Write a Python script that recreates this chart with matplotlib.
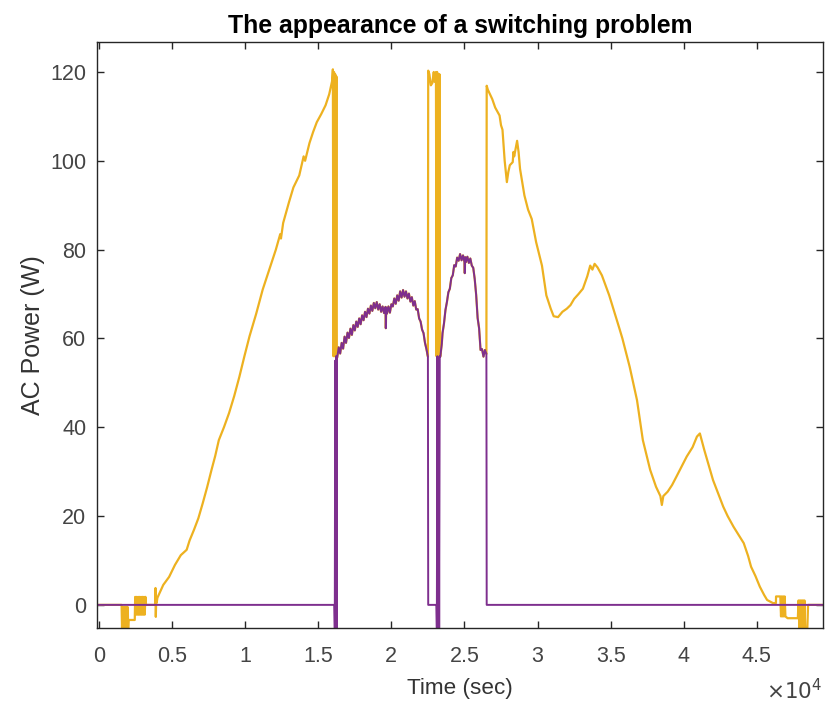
import matplotlib.pyplot as plt
import numpy as np

plt.rcParams['font.family'] = ['Liberation Sans', 'DejaVu Sans']

# colours of the two inverter channels
col_a = '#EDB120'
col_b = '#7E2F8E'

# --- channel A (yellow) pieces, time in seconds, power in W ---
startup_t = [0, 1550, 1580, 1610, 1640, 1670, 1700, 1730, 1760, 1790, 1820, 1850, 1880,
             1910, 1940, 1970, 2000, 2030, 2450, 2480, 2530, 2580, 2630, 2680, 2730, 2780,
             2830, 2880, 2930, 2980, 3030, 3080, 3130, 3180, 3220, 3850, 3870, 3890, 3920, 3950]
startup_p = [0, 0, -5.2, -0.5, -5.2, -0.5, -5.2, -0.5, -5.2, -0.5, -5.2, -0.5, -5.2,
             -0.5, -5.2, -0.5, -5.2, -3.4, -3.4, 1.8, -2.2, 1.8, -2.2, 1.8, -2.2, 1.8,
             -2.2, 1.8, -2.2, 1.8, -2.2, 1.8, -2.2, 1.8, 0, 0, 3.8, -2.7, 1.5, 0.5]

ramp_t = [4000, 4400, 4800, 5200, 5600, 6000, 6200, 6500, 6800, 7100, 7400, 7700, 7950,
          8200, 8550, 8900, 9250, 9600, 9950, 10300, 10750, 11200, 11650, 12100, 12400,
          12450, 12600, 13000, 13300, 13700, 14000, 14100, 14400, 14650, 14900, 15200,
          15500, 15750, 15950, 16000]
ramp_p = [1.6, 4.5, 6.3, 9.0, 11.2, 12.4, 14.5, 16.9, 19.5, 22.9, 26.5, 30.4, 33.5,
          37.1, 40.0, 43.2, 47.0, 51.3, 56.0, 60.5, 65.5, 71.0, 75.5, 80.0, 83.5,
          82.5, 86.0, 90.7, 94.0, 96.7, 101.0, 100.0, 104.0, 106.5, 108.7, 110.5,
          112.5, 115.0, 118.0, 120.6]

# first switch: A oscillating between full and shared power
switch1_t = [16040, 16080, 16120, 16160, 16200, 16240, 16270]
switch1_p = [56.0, 120.0, 56.0, 119.5, 56.0, 119.0, 55.5]

# shared-power humps (both channels)
hump1_t = [16300, 16400, 16500, 16600, 16700, 16800, 16900, 17000, 17100, 17200, 17300,
           17400, 17500, 17600, 17700, 17800, 17900, 18000, 18100, 18200, 18300, 18400,
           18500, 18600, 18700, 18800, 18900, 19000, 19100, 19200, 19300, 19400, 19500,
           19600, 19620, 19650, 19700, 19800, 19900, 20000, 20100, 20200, 20300, 20400,
           20500, 20600, 20700, 20800, 20900, 21000, 21100, 21200, 21300, 21400, 21500,
           21600, 21700, 21800, 21900, 22000, 22100, 22200, 22300, 22400, 22500]
hump1_p = [55.8, 58.0, 56.6, 59.0, 57.7, 60.4, 59.0, 61.3, 60.1, 62.2, 60.8,
           63.0, 61.8, 63.8, 62.6, 64.5, 63.2, 65.2, 64.1, 66.0, 64.8, 66.7,
           65.6, 67.4, 66.2, 68.0, 66.8, 68.2, 66.5, 67.7, 66.0, 67.2, 65.7,
           67.1, 62.3, 66.9, 65.6, 67.2, 65.8, 67.7, 67.2, 69.0, 67.8, 69.7,
           68.5, 70.6, 69.2, 70.9, 69.4, 70.6, 69.0, 70.1, 68.3, 69.3, 67.4,
           68.4, 66.5, 66.6, 64.5, 63.8, 62.0, 61.2, 59.0, 57.6, 55.9]

hump2_t = [23350, 23400, 23450, 23500, 23600, 23700, 23800, 23900, 24000, 24100, 24200,
           24300, 24400, 24500, 24600, 24700, 24800, 24900, 25000, 25020, 25050, 25100,
           25200, 25300, 25400, 25500, 25600, 25700, 25800, 25900, 26000, 26100, 26200,
           26300, 26400, 26500]
hump2_p = [55.9, 57.4, 58.8, 61.2, 63.4, 66.4, 68.2, 70.4, 71.2, 73.6, 74.2,
           76.5, 76.2, 78.2, 77.5, 79.0, 77.6, 78.7, 77.2, 74.7, 78.3, 77.2,
           78.4, 77.0, 78.0, 76.4, 75.9, 73.4, 69.8, 64.6, 62.3, 57.4, 57.6,
           55.9, 57.4, 56.5]

# A back at full power between the humps
gap_a_t = [22520, 22600, 22700, 22800, 22900, 22950, 23050, 23090, 23130, 23170,
           23210, 23250, 23290, 23330]
gap_a_p = [120.3, 119.5, 117.0, 117.5, 120.0, 117.8, 120.0, 56.0, 120.0, 56.0,
           119.5, 56.0, 119.5, 56.0]

decay_t = [26520, 26600, 26900, 27100, 27400, 27500, 27600, 27750, 27900, 28000, 28100,
           28300, 28350, 28400, 28600, 28700, 28800, 29100, 29350, 29600, 29900, 30300,
           30600, 30900, 31100, 31400, 31700, 32000, 32250, 32500, 32800, 33100, 33400,
           33600, 33750, 33900, 34100, 34400, 34700, 34900, 35200, 35600, 35800, 36300,
           36800, 37200, 37700, 38100, 38400, 38500, 38600, 38900, 39200, 39500, 40200,
           40600, 40900, 41100, 41400, 41700, 42000, 42300, 42700, 43000, 43400, 43700,
           44100, 44400, 44600, 44900, 45200, 45500, 45700, 46100, 46300, 46310, 46600,
           46650, 46700, 46750, 46800, 46850, 46900, 46950, 47100, 47800, 47850, 47900,
           47950, 48000, 48050, 48100, 48150, 48200, 48250, 48300, 48450, 48500, 49500]
decay_p = [116.9, 116.0, 113.9, 112.0, 110.2, 108.0, 107.0, 100.0, 95.2, 97.5, 99.0,
           99.7, 102.0, 101.0, 104.5, 102.0, 98.2, 92.2, 89.0, 86.9, 81.7, 76.4,
           69.7, 66.7, 65.0, 64.8, 66.0, 66.7, 67.5, 68.9, 70.0, 71.2, 74.0,
           76.4, 75.5, 76.8, 76.0, 74.2, 71.5, 69.7, 66.5, 62.2, 60.0, 53.6,
           46.1, 37.1, 30.4, 26.6, 24.5, 22.5, 24.5, 25.5, 27.0, 28.9, 33.4,
           35.5, 37.9, 38.6, 34.9, 31.5, 28.1, 25.5, 22.1, 20.0, 17.6, 16.0,
           13.9, 11.0, 8.6, 6.5, 4.1, 2.2, 1.1, 0.4, 0.4, 1.9, 1.9,
           -2.6, 1.9, -2.6, 1.9, -2.6, 1.9, -2.6, -3.0, -3.0, 1.0, -5.2,
           1.0, -5.2, 1.0, -5.2, 1.0, -5.2, 1.0, -5.2, -5.2, 0, 0]

# --- channel B (purple): idle, then only during the shared humps ---
idle1_t = [0, 16100]
switch_b1_t = [16130, 16160, 16190, 16220, 16250, 16280]
switch_b1_p = [-5.2, 55.0, -5.2, 56.0, -5.2, 55.5]
gap_b_t = [22520, 23080]
switch_b2_t = [23110, 23150, 23190, 23230, 23270, 23310]
switch_b2_p = [-5.2, 56.0, -5.2, 55.0, -5.2, 56.0]
idle2_t = [26520, 49500]

a_t = startup_t + ramp_t + switch1_t + hump1_t + gap_a_t + hump2_t + decay_t
a_p = startup_p + ramp_p + switch1_p + hump1_p + gap_a_p + hump2_p + decay_p
b_t = idle1_t + switch_b1_t + hump1_t + gap_b_t + switch_b2_t + hump2_t + idle2_t
b_p = ([0, 0] + switch_b1_p + hump1_p + [0, 0] + switch_b2_p + hump2_p + [0, 0])

fig = plt.figure(figsize=(8.26, 7.04), dpi=100)
ax = fig.add_axes([0.118, 0.108, 0.878, 0.832])

ax.plot(a_t, a_p, color=col_a, lw=1.6)
ax.plot(b_t, b_p, color=col_b, lw=1.4)

ax.set_xlim(-100, 49500)
ax.set_ylim(-5.2, 126.7)

ticks = np.arange(0, 45001, 5000)
ax.set_xticks(ticks)
ax.set_xticklabels(['0', '0.5', '1', '1.5', '2', '2.5', '3', '3.5', '4', '4.5'])
ax.set_yticks([0, 20, 40, 60, 80, 100, 120])

txt = '#262626'
for s in ax.spines.values():
    s.set_color(txt)
    s.set_linewidth(1.0)
ax.tick_params(direction='in', top=True, right=True, length=5, width=1.0,
               color=txt, labelcolor='#444444', labelsize=15.5)
ax.tick_params(axis='x', pad=13)
ax.tick_params(axis='y', pad=8)

ax.set_xlabel('Time (sec)', fontsize=16.2, color='#333333', labelpad=8)
ax.set_ylabel('AC Power (W)', fontsize=18, color='#333333', labelpad=4)
ax.set_title('The appearance of a switching problem', fontsize=17.8,
             fontweight='bold', color='black', pad=7)
fig.text(0.995, 1 - 692 / 704, r'$\times10^{4}$', ha='right', va='center',
         fontsize=15.5, color='#444444')

fig.savefig('out.png', dpi=100)
